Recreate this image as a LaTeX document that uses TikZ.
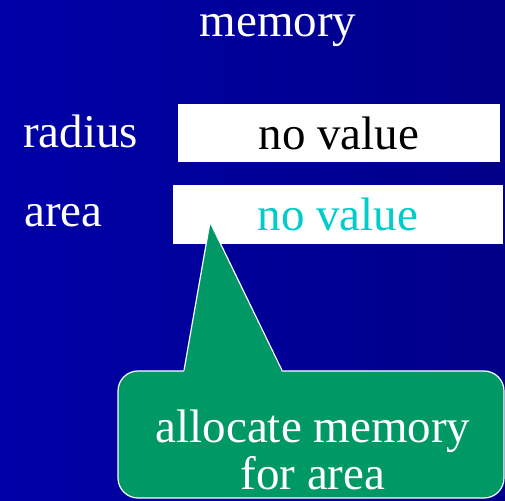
\documentclass[tikz,border=0pt]{standalone}
\usepackage{fontspec}
\setmainfont{Liberation Serif}
\definecolor{slideleft}{RGB}{0,0,168}
\definecolor{slideright}{RGB}{0,0,136}
\definecolor{notegreen}{RGB}{0,153,102}
\definecolor{valuecyan}{RGB}{0,204,204}
\newcommand{\slidefont}{\fontsize{47}{47}\selectfont}
\tikzset{
   varname/.style ={
      inner sep=0pt, anchor=base west, text=white, font=\slidefont,
   },
   cell/.style ={
      rectangle, fill=white, inner sep=0pt, font=\slidefont,
   },
   notebox/.style ={
      rectangle, rounded corners=20pt, fill=notegreen, draw=white,
      line width=1.2pt, inner sep=0pt,
   },
}

\begin{document}
\begin{tikzpicture}[x=1pt,y=1pt]

      \useasboundingbox (0,0) rectangle (505,500);
      \shade[left color=slideleft, right color=slideright] (0,0) rectangle (505,500);

      \node[
         inner sep=0pt,
         anchor=base,
         text=white,
         font=\slidefont,
      ] (title) at (278,463){memory};

      \node[varname] (radius) at (23,352){radius};
      \node[varname] (area) at (24,273){area};

      \node[
         cell,
         minimum height=58pt,
         minimum width=322pt,
      ] (radiusbox) at (339,367){no value};

      \node[
         cell,
         text=valuecyan,
         minimum height=59pt,
         minimum width=330pt,
      ] (areabox) at (338,285.5){no value};

      \node[
         notebox,
         minimum height=127pt,
         minimum width=386pt,
      ] (notebox) at (311,65.5){};

      \coordinate (tip) at (210,278);
      \coordinate (footleft) at ([xshift=-127pt]notebox.north);
      \coordinate (footright) at ([xshift=-29pt]notebox.north);

      \fill[notegreen] ([yshift=-2pt]footleft) -- (tip) -- ([yshift=-2pt]footright) -- cycle;
      \draw[white, line width=1.2pt] (footleft) -- (tip) -- (footright);

      \node[
         inner sep=0pt,
         align=center,
         text=white,
         font=\slidefont,
      ] (note) at (313,50.5){allocate memory\\for area};

\end{tikzpicture}
\end{document}
